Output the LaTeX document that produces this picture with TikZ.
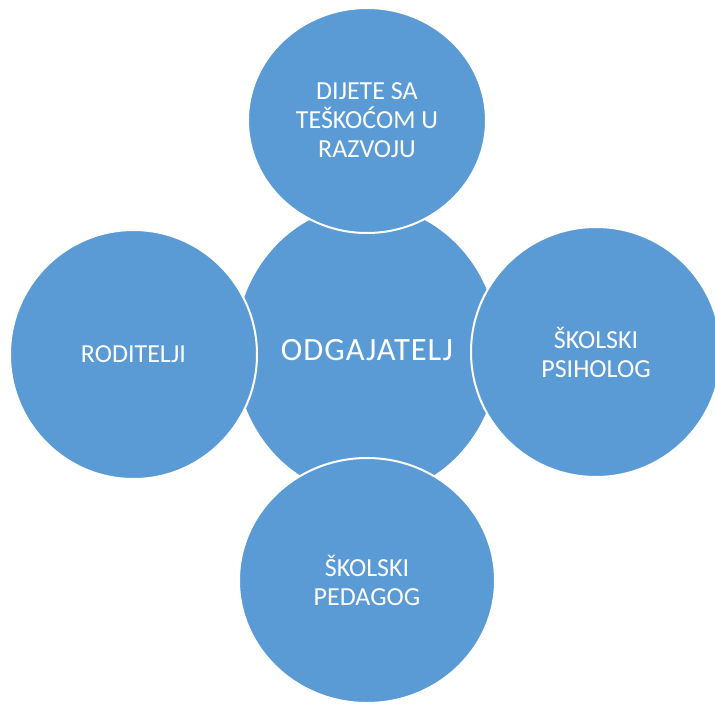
\documentclass[tikz,border=0pt]{standalone}
\usepackage{fontspec}
\setmainfont{Carlito}
\newfontfamily\widefont[LetterSpace=3]{Carlito}
\usetikzlibrary{shapes.geometric}

\definecolor{circblue}{HTML}{5B9BD5}

\tikzset{
    bubble/.style={ellipse, fill=circblue, draw=white, line width=2pt,
        inner sep=0pt, align=center, text=white,
        font=\fontsize{26}{29}\selectfont},
}

\begin{document}
\begin{tikzpicture}[x=1pt, y=-1pt]

    % Fix the page to the size of the picture
    \useasboundingbox (0,0) rectangle (715,704);

    % Middle circle first, the others lie over it
    \node[bubble, minimum width=266pt, minimum height=292pt,
        font=\widefont\fontsize{32.5}{36}\selectfont] (odgajatelj) at (367,350.5) {ODGAJATELJ};

    % Top circle
    \node[bubble, minimum width=238pt, minimum height=225pt] (dijete) at (367,120.5)
        {DIJETE SA\\TEŠKOĆOM U\\RAZVOJU};

    % Left circle
    \node[bubble, minimum width=247pt, minimum height=249pt] (roditelji) at (133.5,354.5)
        {RODITELJI};

    % Right circle
    \node[bubble, minimum width=250pt, minimum height=250pt] (psiholog) at (596,352)
        {ŠKOLSKI\\PSIHOLOG};

    % Bottom circle
    \node[bubble, minimum width=256pt, minimum height=245pt] (pedagog) at (367,580.5)
        {ŠKOLSKI\\PEDAGOG};

\end{tikzpicture}
\end{document}
